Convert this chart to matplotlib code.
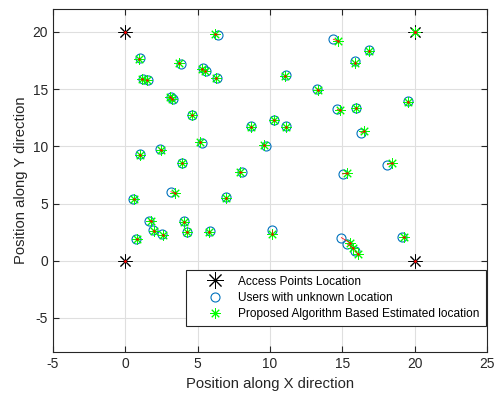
import matplotlib
matplotlib.use('Agg')
import matplotlib.pyplot as plt
import numpy as np

plt.rcParams['font.family'] = ['Liberation Sans', 'DejaVu Sans']
plt.rcParams['axes.unicode_minus'] = False

# access point coordinates (corners of the 20 x 20 area)
ap_x = [0, 20, 0, 20]
ap_y = [0, 0, 20, 20]

# true user positions
user_x = [6.43, 1.02, 3.83, 5.36, 5.60, 6.31, 1.24, 1.55, 3.14, 3.28,
          4.63, 14.37, 16.80, 15.90, 11.08, 13.27, 14.65, 15.96, 10.30, 11.10,
          8.70, 16.27, 19.56, 5.28, 1.02, 2.40, 3.90, 3.16, 0.53, 6.96,
          1.66, 4.08, 1.94, 2.58, 4.24, 5.85, 0.76, 9.70, 8.09, 15.02,
          10.16, 14.93, 15.34, 15.87, 19.14, 18.10]
user_y = [19.74, 17.70, 17.20, 16.80, 16.60, 15.97, 15.85, 15.76, 14.30, 14.16,
          12.72, 19.36, 18.40, 17.46, 16.20, 15.03, 13.22, 13.37, 12.34, 11.75,
          11.75, 11.17, 13.95, 10.30, 9.33, 9.77, 8.54, 6.03, 5.39, 5.56,
          3.51, 3.51, 2.69, 2.31, 2.54, 2.60, 1.90, 10.00, 7.72, 7.58,
          2.69, 2.02, 1.46, 0.85, 2.10, 8.40]

# estimated user positions (last entry sits on the top-right access point)
est_x = [6.20, 0.97, 3.71, 5.30, 5.50, 6.28, 1.15, 1.50, 3.10, 3.25,
         4.60, 14.68, 16.80, 15.90, 11.05, 13.30, 14.84, 15.95, 10.28, 11.10,
         8.72, 16.50, 19.50, 5.18, 1.00, 2.45, 3.90, 3.43, 0.60, 6.96,
         1.82, 4.08, 1.98, 2.62, 4.30, 5.80, 0.83, 9.60, 7.93, 15.30,
         10.16, 15.53, 15.76, 16.10, 19.26, 18.40, 20.00]
est_y = [19.80, 17.67, 17.25, 16.75, 16.60, 15.95, 15.90, 15.80, 14.30, 14.15,
         12.70, 19.20, 18.35, 17.30, 16.15, 14.90, 13.13, 13.35, 12.30, 11.70,
         11.72, 11.30, 13.90, 10.35, 9.26, 9.70, 8.50, 5.91, 5.39, 5.45,
         3.48, 3.42, 2.62, 2.28, 2.47, 2.52, 1.90, 10.10, 7.72, 7.66,
         2.34, 1.55, 1.09, 0.56, 2.10, 8.54, 19.95]

text_col = '#262626'
asterisk = (8, 2, 0)

fig = plt.figure(figsize=(4.98, 3.96), dpi=100)
ax = fig.add_axes([0.1058, 0.1104, 0.8727, 0.8669])

ax.plot(ap_x, ap_y, linestyle='none', marker=asterisk, ms=10, mew=0.7,
        color='black', label='Access Points Location')
ax.plot(user_x, user_y, linestyle='none', marker='o', ms=6.5, mew=0.8,
        mfc='none', mec='#0072BD', label='Users with unknown Location')
ax.plot(est_x, est_y, linestyle='none', marker=asterisk, ms=7.5, mew=0.7,
        color='#00FF00', label='Proposed Algorithm Based Estimated location')

# error segments between true and estimated positions
n = len(user_x)
seg_x = np.vstack([user_x, est_x[:n]])
seg_y = np.vstack([user_y, est_y[:n]])
ax.plot(seg_x, seg_y, color='red', lw=0.55)
ax.plot(est_x, est_y, linestyle='none', marker='.', ms=1.5, color='red')
ax.plot(ap_x, ap_y, linestyle='none', marker='.', ms=2, color='red')

ax.set_xlim(-5, 25)
ax.set_ylim(-8, 22)
ax.set_xticks(np.arange(-5, 26, 5))
ax.set_yticks(np.arange(-5, 21, 5))
ax.grid(True, color='#dfdfdf', lw=0.8)
ax.set_axisbelow(True)
ax.tick_params(direction='in', length=4, top=True, right=True,
               labelsize=9.9, colors=text_col, width=0.8)
for sp in ax.spines.values():
    sp.set_color(text_col)
    sp.set_linewidth(0.8)

ax.set_xlabel('Position along X direction', fontsize=10.7, color=text_col, labelpad=4)
ax.set_ylabel('Position along Y direction', fontsize=10.7, color=text_col, labelpad=3)

leg = ax.legend(loc='lower right', bbox_to_anchor=(0.9963, 0.077), borderaxespad=0,
                fontsize=8.6, fancybox=False, framealpha=1, edgecolor=text_col,
                borderpad=0.5, labelspacing=0.35, handlelength=3.9, handletextpad=0.0)
leg.get_frame().set_linewidth(0.8)
leg.legend_handles[0].set_markersize(12)

fig.savefig('out.png', dpi=100)
